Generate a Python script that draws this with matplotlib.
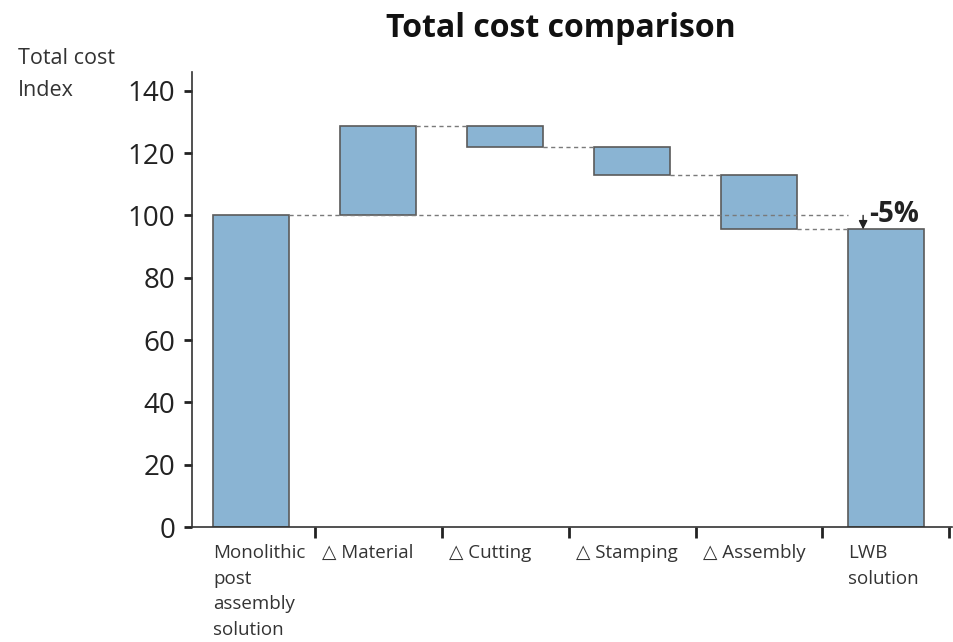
import matplotlib
matplotlib.use("Agg")
import matplotlib.pyplot as plt
import numpy as np
from matplotlib.transforms import blended_transform_factory

plt.rcParams['font.family'] = ['Open Sans', 'DejaVu Sans']

categories = ["Monolithic\npost\nassembly\nsolution", "\u25b3 Material", "\u25b3 Cutting",
              "\u25b3 Stamping", "\u25b3 Assembly", "LWB\nsolution"]
start_value = 100.0
deltas = [28.7, -6.8, -9.0, -17.4]
end_value = 95.5
change_label = "-5%"
yticks = [0, 20, 40, 60, 80, 100, 120, 140]

bar_color = "#8ab4d3"
edge_color = "#5a5a5a"
dash_color = "#7a7a7a"
width = 0.6

fig = plt.figure(figsize=(9.54, 6.42), dpi=100)
ax = fig.add_axes([0.2013, 0.1791, 0.7966, 0.7087])

# compute bar bottoms/heights
bottoms = [0.0]
heights = [start_value]
level = start_value
levels = [start_value]
for d in deltas:
    new = level + d
    bottoms.append(min(level, new))
    heights.append(abs(d))
    level = new
    levels.append(level)
bottoms.append(0.0)
heights.append(end_value)

x = np.arange(len(categories))
ax.bar(x, heights, bottom=bottoms, width=width, color=bar_color,
       edgecolor=edge_color, linewidth=1.2, zorder=2)

dash = dict(color=dash_color, lw=1.0, linestyle=(0, (3, 2.5)), zorder=3)
# connectors between consecutive bars
for i in range(1, len(levels)):
    lv = levels[i]
    ax.plot([x[i] + width / 2, x[i + 1] - width / 2], [lv, lv], **dash)
# reference line at starting value
ax.plot([x[0] + width / 2, x[-1] - width / 2], [start_value, start_value], **dash)

# arrow and change label
ax_x = x[-1] - 0.18
ax.annotate("", xy=(ax_x, end_value), xytext=(ax_x, start_value),
            arrowprops=dict(arrowstyle="-|>", color="#222222", lw=1.0,
                            mutation_scale=13, shrinkA=0, shrinkB=0), zorder=4)
ax.text(ax_x + 0.05, start_value + 0.3, change_label, fontsize=20, fontweight='bold',
        ha='left', va='center', color='#222222')

ax.set_xlim(-0.465, 5.52)
ax.set_ylim(0, 146)
ax.set_yticks(yticks)
ax.set_yticklabels([str(v) for v in yticks], fontsize=20, color='#222222')
ax.tick_params(axis='y', direction='out', length=6, width=2, pad=6, color='#222222')
ax.set_xticks(np.arange(len(categories)) + 0.5)
ax.set_xticklabels([])
ax.tick_params(axis='x', direction='out', length=8, width=2, color='#222222')

for s in ['top', 'right']:
    ax.spines[s].set_visible(False)
for s in ['left', 'bottom']:
    ax.spines[s].set_color('#333333')
    ax.spines[s].set_linewidth(1.2)

trans = blended_transform_factory(ax.transData, ax.transAxes)
for i, lab in enumerate(categories):
    if i == 0 or i == len(categories) - 1:
        xpos = x[i] - width / 2
    else:
        xpos = x[i] - 0.44
    ax.text(xpos, -0.037, lab, transform=trans, ha='left', va='top', fontsize=13.5,
            color='#333333', linespacing=1.55)

fig.text(0.588, 0.955, "Total cost comparison", ha='center', va='center',
         fontsize=23, fontweight='bold', color='#111111')
fig.text(0.019, 0.925, "Total cost\nIndex", ha='left', va='top', fontsize=15.5,
         color='#333333', linespacing=1.7)

fig.savefig("out.png", dpi=100)
